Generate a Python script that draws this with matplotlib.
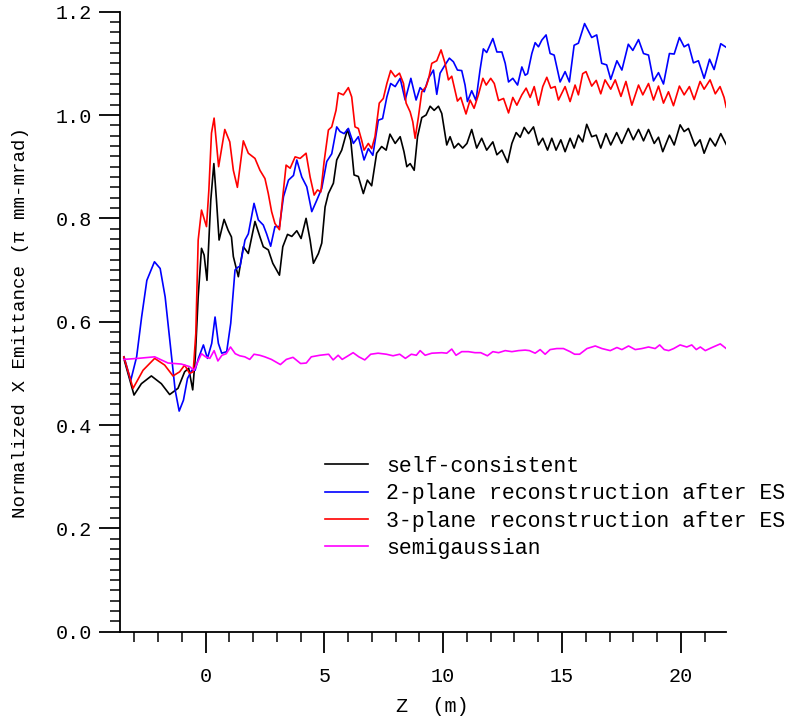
import matplotlib
matplotlib.use("Agg")
import matplotlib.pyplot as plt
from matplotlib.ticker import MultipleLocator, FormatStrFormatter

z_self = [-3.44, -3.01, -2.70, -2.28, -1.86, -1.51, -1.16, -0.88, -0.71, -0.54, -0.43, -0.31,
          -0.17, -0.06, 0.06, 0.22, 0.35, 0.46, 0.57, 0.78, 0.95, 1.09, 1.17, 1.38, 1.59, 1.80,
          2.08, 2.29, 2.43, 2.64, 2.83, 3.11, 3.25, 3.45, 3.63, 3.84, 4.02, 4.23, 4.40, 4.54,
          4.75, 4.89, 5.03, 5.17, 5.38, 5.52, 5.73, 5.97, 6.11, 6.25, 6.43, 6.64, 6.81, 6.99,
          7.20, 7.41, 7.60, 7.76, 7.98, 8.19, 8.35, 8.47, 8.61, 8.78, 8.92, 9.10, 9.28, 9.45,
          9.62, 9.80, 9.94, 10.15, 10.29, 10.46, 10.64, 10.82, 11.00, 11.20, 11.41, 11.62, 11.83,
          12.09, 12.26, 12.47, 12.71, 12.89, 13.07, 13.24, 13.41, 13.59, 13.80, 14.01, 14.19,
          14.39, 14.57, 14.75, 14.95, 15.13, 15.34, 15.51, 15.69, 15.87, 16.04, 16.25, 16.44,
          16.63, 16.85, 17.05, 17.30, 17.51, 17.79, 18.00, 18.22, 18.43, 18.64, 18.88, 19.06,
          19.24, 19.52, 19.72, 19.97, 20.14, 20.32, 20.60, 20.81, 20.98, 21.23, 21.45, 21.68, 21.91]
emit_self = [0.529, 0.458, 0.480, 0.495, 0.480, 0.459, 0.471, 0.503, 0.510, 0.468, 0.532, 0.648,
             0.742, 0.729, 0.680, 0.835, 0.906, 0.835, 0.758, 0.798, 0.777, 0.764, 0.726, 0.687,
             0.745, 0.732, 0.794, 0.764, 0.745, 0.739, 0.713, 0.690, 0.745, 0.769, 0.765, 0.776,
             0.761, 0.800, 0.758, 0.713, 0.732, 0.752, 0.822, 0.848, 0.868, 0.913, 0.932, 0.972,
             0.951, 0.884, 0.881, 0.848, 0.874, 0.863, 0.926, 0.939, 0.932, 0.963, 0.945, 0.958,
             0.929, 0.900, 0.906, 0.893, 0.958, 0.995, 1.000, 1.017, 1.009, 1.017, 1.003, 0.942,
             0.958, 0.936, 0.945, 0.936, 0.945, 0.972, 0.936, 0.955, 0.932, 0.948, 0.923, 0.932,
             0.908, 0.945, 0.966, 0.957, 0.976, 0.964, 0.977, 0.942, 0.955, 0.932, 0.955, 0.932,
             0.952, 0.929, 0.955, 0.936, 0.961, 0.948, 0.982, 0.958, 0.961, 0.936, 0.964, 0.942,
             0.966, 0.945, 0.974, 0.952, 0.972, 0.950, 0.972, 0.945, 0.957, 0.929, 0.961, 0.942,
             0.981, 0.968, 0.974, 0.940, 0.952, 0.926, 0.955, 0.940, 0.964, 0.943]

z_2plane = [-3.43, -3.15, -2.90, -2.69, -2.47, -2.15, -1.91, -1.70, -1.49, -1.28, -1.11, -0.93,
            -0.76, -0.58, -0.44, -0.30, -0.09, 0.08, 0.26, 0.40, 0.54, 0.68, 0.89, 1.06, 1.24,
            1.38, 1.45, 1.66, 1.80, 2.04, 2.22, 2.43, 2.57, 2.74, 2.92, 3.11, 3.28, 3.49, 3.70,
            3.84, 4.05, 4.26, 4.47, 4.68, 4.89, 5.10, 5.31, 5.52, 5.66, 5.83, 6.01, 6.22, 6.43,
            6.67, 6.85, 7.04, 7.27, 7.45, 7.63, 7.79, 7.98, 8.19, 8.40, 8.64, 8.86, 9.03, 9.20,
            9.38, 9.59, 9.73, 9.87, 10.08, 10.26, 10.43, 10.60, 10.78, 10.92, 11.02, 11.20, 11.38,
            11.55, 11.69, 11.83, 12.09, 12.26, 12.47, 12.61, 12.75, 12.93, 13.13, 13.31, 13.45,
            13.55, 13.73, 13.87, 14.01, 14.15, 14.33, 14.50, 14.67, 14.81, 14.92, 15.13, 15.31,
            15.51, 15.69, 15.95, 16.25, 16.46, 16.67, 16.88, 17.05, 17.31, 17.52, 17.79, 17.98,
            18.22, 18.43, 18.64, 18.85, 19.06, 19.27, 19.52, 19.72, 19.94, 20.14, 20.32, 20.53,
            20.74, 20.98, 21.21, 21.40, 21.68, 21.91]
emit_2plane = [0.532, 0.486, 0.532, 0.609, 0.680, 0.716, 0.703, 0.648, 0.558, 0.468, 0.427, 0.448,
               0.490, 0.506, 0.506, 0.529, 0.555, 0.529, 0.558, 0.609, 0.558, 0.539, 0.542, 0.597,
               0.700, 0.706, 0.707, 0.758, 0.770, 0.829, 0.797, 0.787, 0.770, 0.746, 0.784, 0.784,
               0.842, 0.874, 0.883, 0.913, 0.880, 0.861, 0.813, 0.835, 0.858, 0.910, 0.925, 0.977,
               0.968, 0.964, 0.974, 0.945, 0.958, 0.913, 0.935, 0.922, 0.990, 0.993, 1.035, 1.061,
               1.055, 1.071, 1.029, 1.071, 1.029, 1.053, 1.045, 1.071, 1.087, 1.040, 1.081, 1.097,
               1.110, 1.103, 1.087, 1.086, 1.058, 1.026, 1.047, 1.028, 1.087, 1.128, 1.121, 1.148,
               1.122, 1.122, 1.100, 1.064, 1.071, 1.058, 1.093, 1.077, 1.080, 1.119, 1.140, 1.132,
               1.145, 1.155, 1.119, 1.116, 1.087, 1.064, 1.084, 1.064, 1.135, 1.139, 1.177, 1.150,
               1.155, 1.100, 1.097, 1.069, 1.105, 1.087, 1.137, 1.125, 1.146, 1.119, 1.116, 1.066,
               1.082, 1.060, 1.119, 1.118, 1.150, 1.132, 1.137, 1.101, 1.105, 1.071, 1.108, 1.088,
               1.138, 1.131]

z_3plane = [-3.44, -3.05, -2.63, -2.14, -1.72, -1.37, -1.09, -0.88, -0.67, -0.52, -0.41, -0.31,
            -0.17, 0.04, 0.14, 0.25, 0.36, 0.55, 0.81, 1.02, 1.17, 1.34, 1.59, 1.80, 2.08, 2.29,
            2.50, 2.64, 2.78, 2.92, 3.11, 3.25, 3.39, 3.56, 3.77, 3.98, 4.23, 4.40, 4.57, 4.71,
            4.85, 4.99, 5.17, 5.31, 5.49, 5.59, 5.80, 6.01, 6.15, 6.29, 6.43, 6.57, 6.67, 6.85,
            6.99, 7.13, 7.31, 7.48, 7.63, 7.79, 7.98, 8.16, 8.33, 8.44, 8.61, 8.72, 8.82, 8.96,
            9.10, 9.28, 9.38, 9.52, 9.73, 9.91, 10.08, 10.22, 10.36, 10.60, 10.74, 10.96, 11.13,
            11.30, 11.48, 11.67, 11.81, 12.00, 12.15, 12.33, 12.54, 12.75, 12.93, 13.10, 13.31,
            13.49, 13.66, 13.83, 14.01, 14.19, 14.36, 14.53, 14.71, 14.85, 15.13, 15.34, 15.55,
            15.69, 15.87, 16.01, 16.25, 16.44, 16.63, 16.81, 17.05, 17.24, 17.48, 17.69, 17.94,
            18.22, 18.40, 18.64, 18.85, 19.06, 19.27, 19.48, 19.69, 19.94, 20.14, 20.36, 20.56,
            20.81, 20.98, 21.23, 21.45, 21.65, 21.82, 21.91]
emit_3plane = [0.532, 0.471, 0.506, 0.529, 0.516, 0.495, 0.503, 0.516, 0.500, 0.503, 0.577, 0.758,
               0.816, 0.784, 0.855, 0.965, 0.994, 0.900, 0.972, 0.948, 0.893, 0.860, 0.950, 0.926,
               0.916, 0.893, 0.877, 0.848, 0.813, 0.790, 0.778, 0.842, 0.903, 0.897, 0.919, 0.916,
               0.926, 0.880, 0.845, 0.855, 0.851, 0.910, 0.971, 0.977, 1.009, 1.043, 1.039, 1.053,
               1.035, 0.977, 0.974, 0.951, 0.932, 0.945, 0.935, 0.958, 1.023, 1.032, 1.061, 1.086,
               1.074, 1.081, 1.061, 1.023, 1.006, 0.987, 0.955, 0.997, 1.045, 1.055, 1.069, 1.100,
               1.105, 1.126, 1.100, 1.068, 1.075, 1.027, 1.034, 1.002, 1.029, 1.013, 1.039, 1.071,
               1.058, 1.071, 1.061, 1.028, 1.032, 1.004, 1.034, 1.019, 1.039, 1.052, 1.034, 1.055,
               1.019, 1.055, 1.073, 1.052, 1.055, 1.029, 1.055, 1.026, 1.058, 1.039, 1.080, 1.084,
               1.056, 1.067, 1.041, 1.068, 1.050, 1.068, 1.036, 1.065, 1.019, 1.058, 1.039, 1.061,
               1.029, 1.056, 1.023, 1.045, 1.018, 1.056, 1.039, 1.055, 1.030, 1.065, 1.050, 1.068,
               1.041, 1.055, 1.034, 1.015]

z_semi = [-3.44, -2.84, -2.14, -1.58, -1.02, -0.67, -0.48, -0.31, -0.17, 0.00, 0.18, 0.36, 0.52,
          0.69, 0.87, 1.05, 1.25, 1.44, 1.65, 1.86, 2.04, 2.28, 2.49, 2.77, 3.15, 3.40, 3.68, 4.00,
          4.24, 4.45, 4.81, 5.18, 5.37, 5.58, 5.75, 6.00, 6.21, 6.45, 6.70, 6.95, 7.26, 7.61, 7.89,
          8.17, 8.41, 8.66, 8.87, 9.03, 9.24, 9.52, 9.94, 10.15, 10.36, 10.54, 10.78, 11.06, 11.34,
          11.58, 11.86, 12.09, 12.33, 12.61, 12.89, 13.17, 13.45, 13.63, 13.87, 14.08, 14.29, 14.50,
          14.78, 15.06, 15.34, 15.53, 15.74, 16.05, 16.40, 16.68, 17.03, 17.31, 17.52, 17.80, 18.08,
          18.36, 18.64, 18.92, 19.11, 19.30, 19.49, 19.70, 19.97, 20.25, 20.46, 20.65, 20.82, 21.03,
          21.31, 21.66, 21.91]
emit_semi = [0.527, 0.529, 0.532, 0.520, 0.518, 0.513, 0.506, 0.524, 0.538, 0.532, 0.529, 0.544,
             0.524, 0.535, 0.538, 0.551, 0.538, 0.534, 0.532, 0.527, 0.537, 0.535, 0.532, 0.527,
             0.517, 0.527, 0.531, 0.519, 0.520, 0.532, 0.535, 0.537, 0.526, 0.535, 0.527, 0.534,
             0.540, 0.532, 0.526, 0.537, 0.539, 0.537, 0.534, 0.537, 0.529, 0.537, 0.535, 0.544,
             0.535, 0.539, 0.540, 0.539, 0.547, 0.535, 0.542, 0.542, 0.540, 0.540, 0.534, 0.542,
             0.540, 0.544, 0.542, 0.544, 0.545, 0.544, 0.539, 0.546, 0.537, 0.546, 0.548, 0.548,
             0.542, 0.537, 0.537, 0.548, 0.553, 0.548, 0.544, 0.550, 0.546, 0.553, 0.546, 0.548,
             0.551, 0.548, 0.555, 0.546, 0.544, 0.548, 0.555, 0.551, 0.555, 0.546, 0.551, 0.544,
             0.550, 0.557, 0.548]

labels = ["self-consistent", "2-plane reconstruction after ES",
          "3-plane reconstruction after ES", "semigaussian"]
colors = ["black", "#0000ff", "#ff0000", "#ff00ff"]

mono = "Liberation Mono"

fig = plt.figure(figsize=(7.91, 7.25), dpi=100)
ax = fig.add_axes([0.1517, 0.1287, 0.7661, 0.8552])

series = [(z_self, emit_self), (z_2plane, emit_2plane),
          (z_3plane, emit_3plane), (z_semi, emit_semi)]
for (z, e), lab, col in zip(series, labels, colors):
    ax.plot(z, e, color=col, lw=1.2, label=lab)

ax.set_xlim(-3.6, 21.9)
ax.set_ylim(0, 1.2)

for s in ["top", "right"]:
    ax.spines[s].set_visible(False)
for s in ["left", "bottom"]:
    ax.spines[s].set_linewidth(1.3)

ax.xaxis.set_major_locator(MultipleLocator(5))
ax.xaxis.set_minor_locator(MultipleLocator(1))
ax.yaxis.set_major_locator(MultipleLocator(0.2))
ax.yaxis.set_minor_locator(MultipleLocator(0.02))
ax.yaxis.set_major_formatter(FormatStrFormatter("%.1f"))
ax.xaxis.set_major_formatter(FormatStrFormatter("%d"))

ax.tick_params(which="major", direction="out", length=15, width=1.3)
ax.tick_params(which="minor", direction="out", length=7, width=1.1)
ax.tick_params(axis="x", which="major", pad=10.5)
ax.tick_params(axis="y", which="major", pad=5)
for t in ax.get_xticklabels() + ax.get_yticklabels():
    t.set_fontfamily(mono)
    t.set_fontsize(14.5)

ax.set_xlabel("Z  (m)", fontfamily=mono, fontsize=14.5)
ax.xaxis.set_label_coords(0.515, -0.105)
ax.set_ylabel("Normalized X Emittance (\u03c0 mm-mrad)", fontfamily=mono, fontsize=13.8)
ax.yaxis.set_label_coords(-0.15, 0.498)

ax.legend(loc="upper left", bbox_to_anchor=(0.338, 0.284), frameon=False,
          prop={"family": mono, "size": 15.5}, handlelength=2.0, handletextpad=0.84,
          labelspacing=0.3, borderpad=0, borderaxespad=0)

fig.savefig("out.png", dpi=100)
